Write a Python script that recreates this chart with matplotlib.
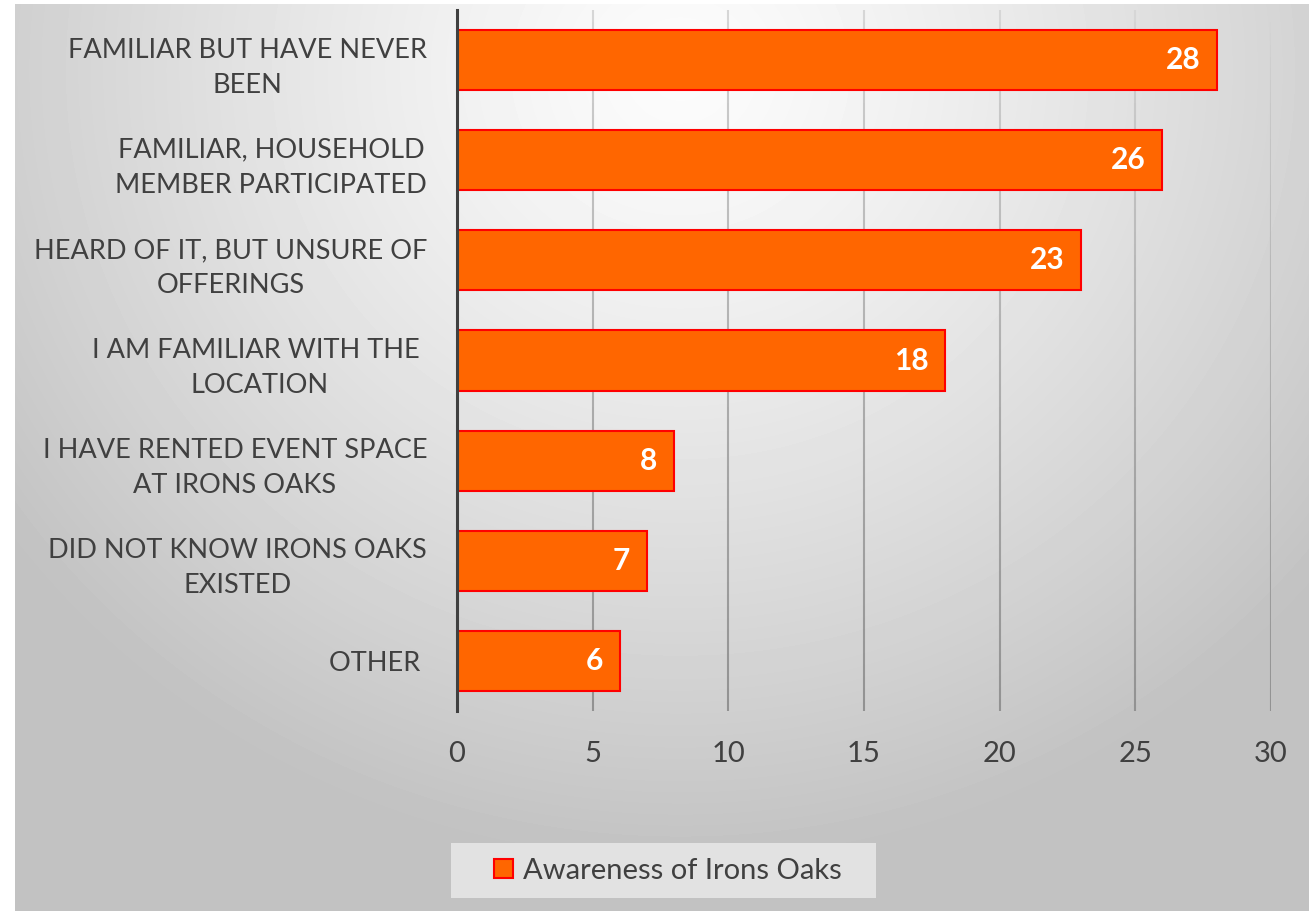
import numpy as np
import matplotlib
matplotlib.use("Agg")
import matplotlib.pyplot as plt
from matplotlib.collections import LineCollection
from matplotlib.patches import Rectangle, Patch

#-----------------------------
categories = ["FAMILIAR BUT HAVE NEVER\nBEEN",
              "FAMILIAR, HOUSEHOLD\nMEMBER PARTICIPATED",
              "HEARD OF IT, BUT UNSURE OF\nOFFERINGS",
              "I AM FAMILIAR WITH THE \nLOCATION",
              "I HAVE RENTED EVENT SPACE\nAT IRONS OAKS",
              "DID NOT KNOW IRONS OAKS\nEXISTED",
              "OTHER "]
counts = [28, 26, 23, 18, 8, 7, 6]
xticks = [0, 5, 10, 15, 20, 25, 30]
series_name = "Awareness of Irons Oaks"

bar_color = "#FF6600"
edge_color = "#FF0000"
text_color = "#404040"
W, H = 1316, 911
#-----------------------------

plt.rcParams['font.family'] = ['Lato', 'DejaVu Sans']

fig = plt.figure(figsize=(W / 100, H / 100), dpi=100)
fig.patch.set_facecolor("white")

# radial grey background of the chart area
bx0, bx1, by0, by1 = 15, 1309, 4, 911
bg = fig.add_axes([bx0 / W, 1 - by1 / H, (bx1 - bx0) / W, (by1 - by0) / H])
yy, xx = np.mgrid[by0:by1, bx0:bx1]
d = np.hypot((xx - 680) * 1.0, (yy - 70) * 1.05)
shade = 252 - 58 * np.clip(d / 830, 0, 1) ** 1.25
bg.imshow(shade / 255.0, cmap="gray", vmin=0, vmax=1, aspect="auto",
          interpolation="bilinear")
bg.set_axis_off()

# plot area
left, right, top, bottom = 457, 1271, 10, 711
ax = fig.add_axes([left / W, 1 - bottom / H, (right - left) / W, (bottom - top) / H])
ax.patch.set_alpha(0)

y = np.arange(len(categories))
ax.barh(y, counts, height=0.6, color=bar_color, edgecolor=edge_color,
        linewidth=1.5, zorder=3)

for yi, v in zip(y, counts):
    ax.annotate(str(v), (v, yi), xytext=(-12, 0), textcoords="offset points",
                ha="right", va="center", color="white", fontsize=21.5,
                fontweight="bold", zorder=4)

ax.set_xlim(0, 30)
ax.set_ylim(len(categories) - 0.5, -0.5)

# vertical gridlines, shaded lighter at the top
segs, cols = [], []
n = 60
for xt in xticks[1:]:
    ys = np.linspace(-0.5, len(categories) - 0.5, n + 1)
    for i in range(n):
        segs.append([(xt, ys[i]), (xt, ys[i + 1])])
        t = i / n
        g = (0.84 - 0.27 * t ** 0.8)
        cols.append((g, g, g))
ax.add_collection(LineCollection(segs, colors=cols, linewidths=1.5, zorder=1))

for s in ["top", "right", "bottom"]:
    ax.spines[s].set_visible(False)
ax.spines["left"].set_color(text_color)
ax.spines["left"].set_linewidth(2.2)
ax.spines["left"].set_zorder(5)

ax.set_xticks(xticks)
ax.set_yticks(y)
ax.set_yticklabels(categories, multialignment="center", linespacing=1.5)
ax.tick_params(axis="y", length=0, pad=21.5, labelsize=19.5, labelcolor=text_color)
ax.tick_params(axis="x", length=0, pad=21.5, labelsize=21, labelcolor=text_color)

# legend
fig.patches.append(Rectangle((451 / W, 1 - 898 / H), 425 / W, 55 / H,
                             transform=fig.transFigure, facecolor="#e2e2e2",
                             edgecolor="none", zorder=0))
handle = Patch(facecolor=bar_color, edgecolor=edge_color, linewidth=1.5)
fig.legend([handle], [series_name], loc="center",
           bbox_to_anchor=(668 / W, 1 - 871 / H), frameon=False,
           fontsize=21, labelcolor=text_color, handlelength=0.65,
           handleheight=0.65, handletextpad=0.35)

fig.savefig("out.png", dpi=100)
